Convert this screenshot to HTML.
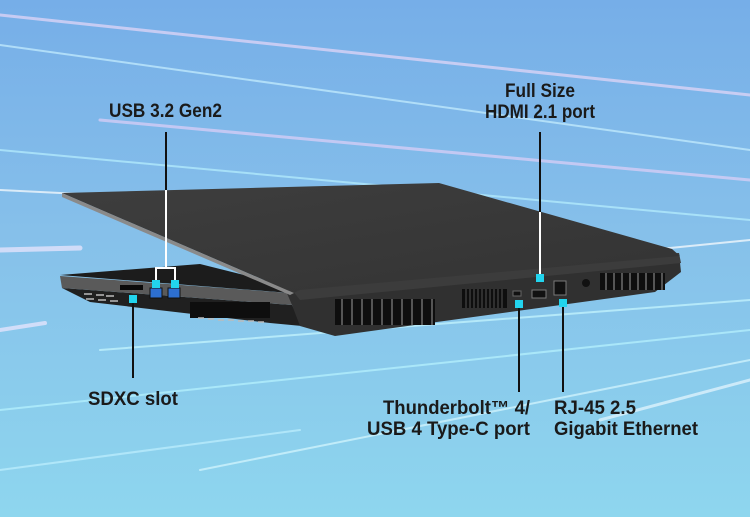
<!DOCTYPE html>
<html><head><meta charset="utf-8"><style>
html,body{margin:0;padding:0;width:750px;height:517px;overflow:hidden}
svg{display:block}
text{font-family:"Liberation Sans Narrow","Liberation Sans",sans-serif;font-weight:bold;font-size:19px;fill:#1a1a1a}
</style></head><body>
<svg width="750" height="517" viewBox="0 0 750 517" xmlns="http://www.w3.org/2000/svg">
<defs>
<linearGradient id="bg" x1="0" y1="0" x2="0" y2="1">
<stop offset="0" stop-color="#76aee8"/><stop offset="0.45" stop-color="#86c0ea"/><stop offset="1" stop-color="#8ed6ee"/>
</linearGradient>
<linearGradient id="lid" x1="0" y1="0" x2="1" y2="1">
<stop offset="0" stop-color="#3e3e3e"/><stop offset="1" stop-color="#333"/>
</linearGradient>
</defs>
<rect width="750" height="517" fill="url(#bg)"/>
<g stroke-linecap="round" opacity="0.7">
<line x1="0" y1="15" x2="750" y2="95" stroke="#e8d8f8" stroke-width="3"/>
<line x1="0" y1="45" x2="750" y2="150" stroke="#c8f0ff" stroke-width="2"/>
<line x1="100" y1="120" x2="750" y2="180" stroke="#e0d0f8" stroke-width="3"/>
<line x1="0" y1="150" x2="750" y2="220" stroke="#b8f0ff" stroke-width="2"/>
<line x1="0" y1="190" x2="200" y2="200" stroke="#ffffff" stroke-width="2"/>
<line x1="0" y1="250" x2="80" y2="248" stroke="#f0e8ff" stroke-width="5"/>
<line x1="0" y1="330" x2="45" y2="323" stroke="#f0e8ff" stroke-width="4"/>
<line x1="100" y1="350" x2="750" y2="300" stroke="#c8f8ff" stroke-width="2"/>
<line x1="0" y1="410" x2="750" y2="330" stroke="#b8f4ff" stroke-width="2"/>
<line x1="200" y1="470" x2="750" y2="360" stroke="#d8f8ff" stroke-width="2"/>
<line x1="600" y1="420" x2="750" y2="380" stroke="#e8f8ff" stroke-width="3"/>
<line x1="0" y1="470" x2="300" y2="430" stroke="#c0f0ff" stroke-width="2"/>
<line x1="650" y1="250" x2="750" y2="240" stroke="#ffffff" stroke-width="2"/>
</g>
<!-- base left -->
<polygon points="60,275 200,264 300,289 290,293" fill="#1c1c1c"/>
<polygon points="62,288 292,305 302,326 270,323 90,302" fill="#202020"/>
<polygon points="60,276 290,293 292,305 62,288" fill="#5a5a5a"/>
<!-- base rear -->
<polygon points="286,291 679,253 681,272 655,292 335,336 300,326 292,305" fill="#303030"/>
<polygon points="292,290 679,253 681,263 300,300" fill="#3c3c3c"/>
<!-- lid -->
<polygon points="62,193 439,183 672,249 680,256 300,290 294,293" fill="url(#lid)"/>
<polygon points="62,193 294,293 290,295 62,197" fill="#8a8a8a"/>
<!-- vents -->
<g fill="#0e0e0e">
<rect x="335" y="299" width="100" height="26"/>
<rect x="600" y="273" width="65" height="17"/>
<rect x="462" y="289" width="45" height="19"/>
<rect x="190" y="302" width="80" height="16"/>
</g>
<g stroke="#555" stroke-width="2">
<path d="M342,299v26M352,299v26M362,299v26M372,299v26M382,299v26M392,299v26M402,299v26M412,299v26M422,299v26M432,299v26"/>
<path d="M606,273v17M614,273v17M622,273v17M630,273v17M638,273v17M646,273v17M654,273v17M662,273v17"/>
</g>
<g stroke="#bbb" stroke-width="1.5">
<path d="M198,318h6M208,319h6M218,320h6M228,320h6M238,321h6M248,321h6M258,322h6"/>
<path d="M84,294h8M96,295h8M106,296h8M86,299h8M98,300h8M110,301h8"/>
</g>
<g stroke="#3a3a3a" stroke-width="1.5"><path d="M466,289v19M470,289v19M474,289v19M478,289v19M482,289v19M486,289v19M490,289v19M494,289v19M498,289v19M502,289v19"/></g>
<!-- ports -->
<rect x="120" y="285" width="23" height="5" fill="#0a0a0a"/>
<rect x="150" y="288" width="12" height="10" fill="#2d6fd0" stroke="#111"/>
<rect x="168" y="288" width="12" height="10" fill="#2d6fd0" stroke="#111"/>
<rect x="513" y="291" width="8" height="5" fill="#111" stroke="#666"/>
<rect x="532" y="290" width="14" height="8" fill="#111" stroke="#777"/>
<rect x="554" y="281" width="12" height="14" fill="#111" stroke="#777"/>
<circle cx="586" cy="283" r="4" fill="#111"/>
<!-- connectors -->
<g stroke-width="2" fill="none">
<line x1="166" y1="132" x2="166" y2="190" stroke="#111"/>
<line x1="166" y1="190" x2="166" y2="268" stroke="#fff"/>
<path d="M156,283 V268 H175 V283" stroke="#fff"/>
<line x1="540" y1="132" x2="540" y2="212" stroke="#111"/>
<line x1="540" y1="212" x2="540" y2="277" stroke="#fff"/>
<line x1="133" y1="300" x2="133" y2="378" stroke="#111"/>
<line x1="519" y1="305" x2="519" y2="392" stroke="#111"/>
<line x1="563" y1="305" x2="563" y2="392" stroke="#111"/>
</g>
<g fill="#22d4ee">
<rect x="152" y="280" width="8" height="8"/>
<rect x="171" y="280" width="8" height="8"/>
<rect x="536" y="274" width="8" height="8"/>
<rect x="129" y="295" width="8" height="8"/>
<rect x="515" y="300" width="8" height="8"/>
<rect x="559" y="299" width="8" height="8"/>
</g>
<!-- labels -->
<g>
<text x="109" y="117" textLength="113" lengthAdjust="spacingAndGlyphs">USB 3.2 Gen2</text>
<text x="505" y="97" textLength="70" lengthAdjust="spacingAndGlyphs">Full Size</text>
<text x="485" y="118" textLength="110" lengthAdjust="spacingAndGlyphs">HDMI 2.1 port</text>
<text x="88" y="405" textLength="90" lengthAdjust="spacingAndGlyphs">SDXC slot</text>
<text x="383" y="414" textLength="147" lengthAdjust="spacingAndGlyphs">Thunderbolt™ 4/</text>
<text x="367" y="435" textLength="163" lengthAdjust="spacingAndGlyphs">USB 4 Type-C port</text>
<text x="554" y="414" textLength="82" lengthAdjust="spacingAndGlyphs">RJ-45 2.5</text>
<text x="554" y="435" textLength="144" lengthAdjust="spacingAndGlyphs">Gigabit Ethernet</text>
</g>
</svg>
</body></html>
